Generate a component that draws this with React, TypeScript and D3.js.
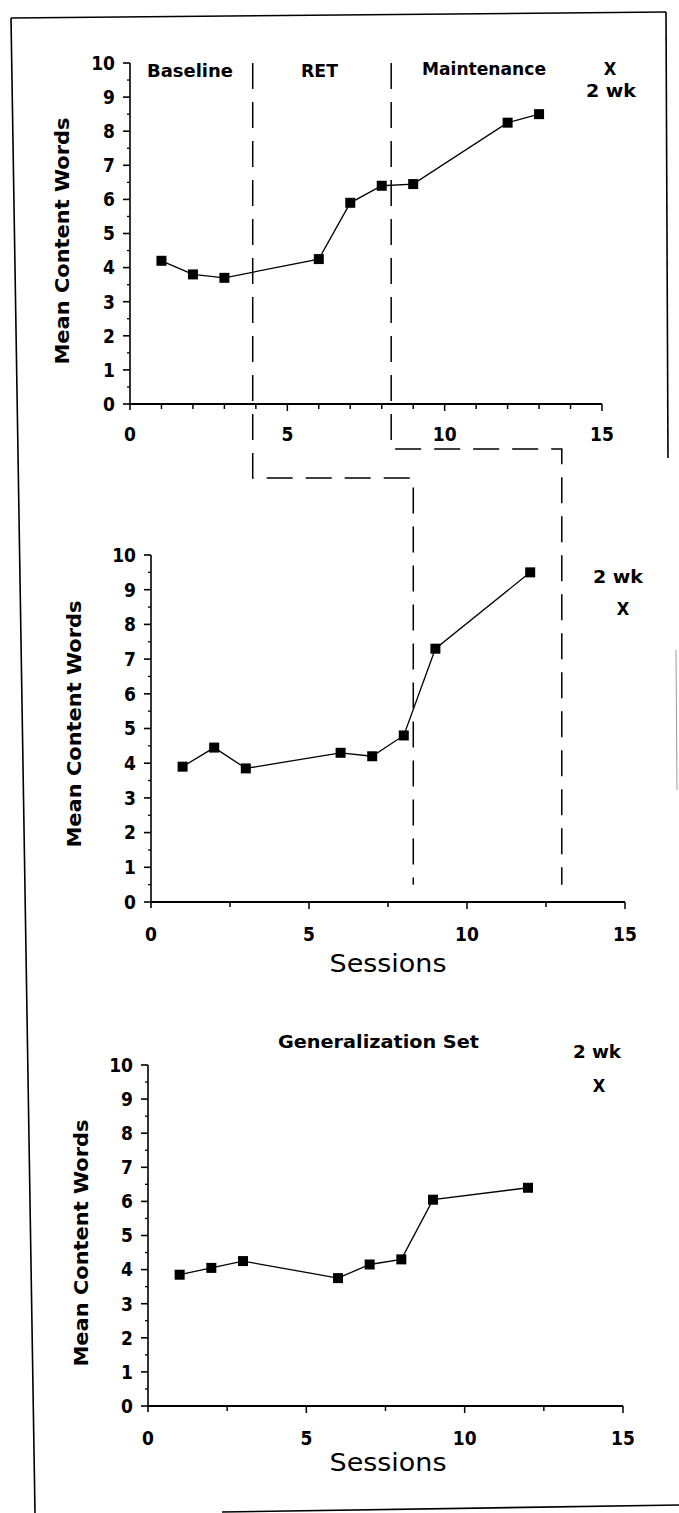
import React from "react";
import * as d3 from "d3";

// ---- data ----
const sessions1 = [1, 2, 3, 6, 7, 8, 9, 12, 13];
const values1 = [4.2, 3.8, 3.7, 4.25, 5.9, 6.4, 6.45, 8.25, 8.5];

const sessions2 = [1, 2, 3, 6, 7, 8, 9, 12];
const values2 = [3.9, 4.45, 3.85, 4.3, 4.2, 4.8, 7.3, 9.5];

const sessions3 = [1, 2, 3, 6, 7, 8, 9, 12];
const values3 = [3.85, 4.05, 4.25, 3.75, 4.15, 4.3, 6.05, 6.4];

const yTicks = [0, 1, 2, 3, 4, 5, 6, 7, 8, 9, 10];
const xTickLabels = [0, 5, 10, 15];
const phaseLabels1 = ["Baseline", "RET", "Maintenance"];
const phaseLines1 = [3.9, 8.3]; // session positions in top panel
const phaseLines2 = [8.3, 13]; // session positions in middle panel
const yLabel = "Mean Content Words";
const xLabel = "Sessions";
const genTitle = "Generalization Set";

const BOLD = "'DejaVu Sans Condensed', 'DejaVu Sans', sans-serif";
const REG = "'DejaVu Sans Condensed', 'DejaVu Sans', sans-serif";

type Panel = {
  x: d3.ScaleLinear<number, number>;
  y: d3.ScaleLinear<number, number>;
  xs: number[];
  vs: number[];
  minorX: number[];
  yLabelX: number;
  yLabelY: number;
  labelBaseline: number;
};

function Axes({ p }: { p: Panel }) {
  const { x, y } = p;
  const x0 = x(0);
  const y0 = y(0);
  const halfTicks = d3.range(0.5, 10, 1);
  const line = d3
    .line<number>()
    .x((_, i) => x(p.xs[i]))
    .y((d) => y(d));
  return (
    <g>
      {/* y axis */}
      <line x1={x0} x2={x0} y1={y(10)} y2={y0 + 6} stroke="#000" strokeWidth={1.6} />
      {yTicks.map((t) => (
        <g key={"yt" + t}>
          <line x1={x0 - 7} x2={x0} y1={y(t)} y2={y(t)} stroke="#000" strokeWidth={1.6} />
          <text
            x={x0 - 15}
            y={y(t)}
            dy="0.36em"
            textAnchor="end"
            fontFamily={BOLD}
            fontWeight="bold"
            fontSize={19}
          >
            {t}
          </text>
        </g>
      ))}
      {halfTicks.map((t) => (
        <line key={"yh" + t} x1={x0 - 3} x2={x0} y1={y(t)} y2={y(t)} stroke="#000" strokeWidth={1.3} />
      ))}
      {/* x axis */}
      <line x1={x0} x2={x(15)} y1={y0} y2={y0} stroke="#000" strokeWidth={1.8} />
      {p.minorX.map((t) => (
        <line
          key={"xt" + t}
          x1={x(t)}
          x2={x(t)}
          y1={y0}
          y2={y0 + (t % 5 === 0 ? 7 : 5)}
          stroke="#000"
          strokeWidth={1.5}
        />
      ))}
      {xTickLabels.map((t) => (
        <text
          key={"xl" + t}
          x={x(t)}
          y={p.labelBaseline}
          textAnchor="middle"
          fontFamily={BOLD}
          fontWeight="bold"
          fontSize={19}
        >
          {t}
        </text>
      ))}
      {/* y label */}
      <text
        transform={`translate(${p.yLabelX},${p.yLabelY}) rotate(-90)`}
        textAnchor="middle"
        dy="0.36em"
        fontFamily={BOLD}
        fontWeight="900"
        fontSize={20}
        textLength={247}
        lengthAdjust="spacingAndGlyphs"
      >
        {yLabel}
      </text>
      {/* series */}
      <path d={line(p.vs) || ""} fill="none" stroke="#000" strokeWidth={1.3} />
      {p.vs.map((v, i) => (
        <rect key={"m" + i} x={x(p.xs[i]) - 5} y={y(v) - 5} width={10} height={10} fill="#000" />
      ))}
    </g>
  );
}

export default function App() {
  const x1 = d3.scaleLinear().domain([0, 15]).range([130, 602]);
  const y1 = d3.scaleLinear().domain([0, 10]).range([404, 63]);
  const x2 = d3.scaleLinear().domain([0, 15]).range([151, 625]);
  const y2 = d3.scaleLinear().domain([0, 10]).range([902, 555]);
  const x3 = d3.scaleLinear().domain([0, 15]).range([148, 623]);
  const y3 = d3.scaleLinear().domain([0, 10]).range([1406, 1065]);

  const p1: Panel = {
    x: x1, y: y1, xs: sessions1, vs: values1,
    minorX: d3.range(1, 16, 1), yLabelX: 62, yLabelY: 241, labelBaseline: y1(0) + 37,
  };
  const p2: Panel = {
    x: x2, y: y2, xs: sessions2, vs: values2,
    minorX: d3.range(2.5, 15.1, 2.5), yLabelX: 74, yLabelY: 724, labelBaseline: y2(0) + 39,
  };
  const p3: Panel = {
    x: x3, y: y3, xs: sessions3, vs: values3,
    minorX: d3.range(2.5, 15.1, 2.5), yLabelX: 81, yLabelY: 1243, labelBaseline: y3(0) + 39,
  };

  const connA = `M${x1(phaseLines1[0])},${y1(10)} V${y1(0) + 74} H${x2(phaseLines2[0])} V${y2(0.5)}`;
  const connB = `M${x1(phaseLines1[1])},${y1(10)} V${y1(0) + 45} H${x2(phaseLines2[1])} V${y2(0.5)}`;

  const labelProps = { fontFamily: BOLD, fontWeight: "bold" as const, fontSize: 18 };

  return (
    <svg
      width={679}
      height={1513}
      style={{ position: "absolute", left: 0, top: 0, background: "#fff" }}
    >
      <rect width={679} height={1513} fill="#fff" />
      {/* frame */}
      <g stroke="#000" strokeWidth={1.6} fill="none">
        <line x1={11} y1={18} x2={666} y2={12} />
        <line x1={11} y1={18} x2={35} y2={1513} />
        <line x1={666} y1={12} x2={668} y2={458} />
        <line x1={222} y1={1512} x2={679} y2={1505} />
      </g>
      <line x1={676} y1={650} x2={677} y2={790} stroke="#999" strokeWidth={1} />

      {/* phase lines */}
      <g stroke="#000" strokeWidth={1.5} fill="none" strokeDasharray="26,13">
        <path d={connA} />
        <path d={connB} />
      </g>

      <Axes p={p1} />
      <Axes p={p2} />
      <Axes p={p3} />

      {/* top panel labels */}
      <text x={147} y={77} {...labelProps} textLength={86} lengthAdjust="spacingAndGlyphs">
        {phaseLabels1[0]}
      </text>
      <text x={301} y={77} {...labelProps} textLength={37} lengthAdjust="spacingAndGlyphs">
        {phaseLabels1[1]}
      </text>
      <text x={422} y={75} {...labelProps} textLength={124} lengthAdjust="spacingAndGlyphs">
        {phaseLabels1[2]}
      </text>
      <text x={610} y={75} textAnchor="middle" {...labelProps}>X</text>
      <text x={586} y={97} {...labelProps} textLength={50} lengthAdjust="spacingAndGlyphs">2 wk</text>

      {/* middle panel labels */}
      <text x={593} y={583} {...labelProps} textLength={50} lengthAdjust="spacingAndGlyphs">2 wk</text>
      <text x={623} y={615} textAnchor="middle" {...labelProps}>X</text>
      <text x={388} y={972} textAnchor="middle" fontFamily={REG} fontSize={24} textLength={117} lengthAdjust="spacingAndGlyphs">
        {xLabel}
      </text>

      {/* bottom panel labels */}
      <text x={278} y={1048} {...labelProps} textLength={201} lengthAdjust="spacingAndGlyphs">
        {genTitle}
      </text>
      <text x={573} y={1058} {...labelProps} textLength={48} lengthAdjust="spacingAndGlyphs">2 wk</text>
      <text x={599} y={1092} textAnchor="middle" {...labelProps}>X</text>
      <text x={388} y={1471} textAnchor="middle" fontFamily={REG} fontSize={24} textLength={117} lengthAdjust="spacingAndGlyphs">
        {xLabel}
      </text>
    </svg>
  );
}
